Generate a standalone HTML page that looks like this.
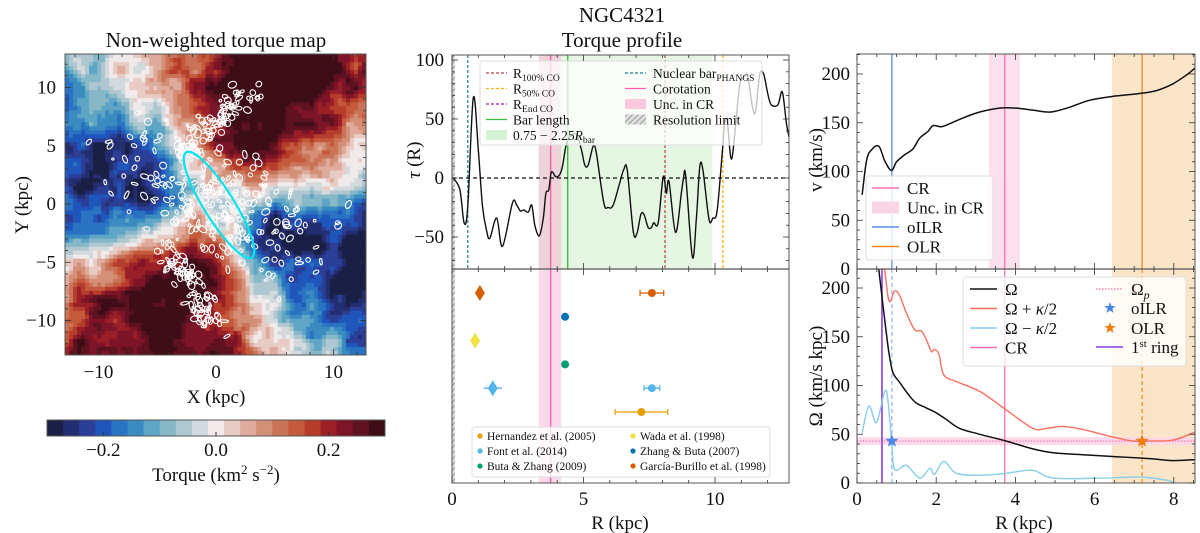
<!DOCTYPE html>
<html><head><meta charset="utf-8"><title>NGC4321 torque</title>
<style>
html,body{margin:0;padding:0;background:#fff;}
svg{display:block;font-family:"Liberation Serif","DejaVu Serif",serif;}
</style></head>
<body>
<svg id="fig" xmlns="http://www.w3.org/2000/svg" width="1200" height="533" viewBox="0 0 1200 533">
<defs>
<clipPath id="cMap"><rect x="65" y="54" width="301" height="301"/></clipPath>
<clipPath id="cTop"><rect x="452" y="55" width="337" height="214"/></clipPath>
<clipPath id="cBot"><rect x="452" y="269" width="337" height="214"/></clipPath>
<clipPath id="cRT"><rect x="857" y="54" width="338" height="215"/></clipPath>
<clipPath id="cRB"><rect x="857" y="269" width="338" height="214"/></clipPath>
<pattern id="hatch" width="4" height="4" patternUnits="userSpaceOnUse" patternTransform="rotate(45)"><rect width="4" height="4" fill="#ddd"/><line x1="0" y1="0" x2="0" y2="4" stroke="#888" stroke-width="1.5"/></pattern>
</defs>
</svg>
<script>
// ---------- DATA ----------
const torqueR = [0.05,0.3,0.46,0.6,0.81,1.0,1.16,1.32,1.44,1.7,1.92,2.3,2.46,2.6,2.73,2.9,3.03,3.15,3.32,3.47,3.57,3.68,3.78,3.95,4.1,4.2,4.33,4.48,4.73,4.92,5.05,5.18,5.37,5.49,5.77,5.94,6.13,6.38,6.53,6.66,6.89,7.03,7.18,7.3,7.46,7.58,7.67,7.84,8.03,8.15,8.25,8.5,8.72,8.81,8.89,9.14,9.29,9.42,9.54,9.77,9.92,10.08,10.28,10.37,10.47,10.62,10.78,10.94,11.13,11.25,11.42,11.54,11.7,11.85,12.01,12.14,12.39,12.56,12.71,12.81];
const torqueVal = [0,-10,-38,-24,68,24,-24,-45,-51,-34,-58,-21,-23,-28,-27,-29,-23,-40,-49,-34,-13,-10,5,1,3,10,27,35,37,24,11,11,27,21,-21,-25,-23,-4,7,7,-45,-47,-31,-31,-42,-42,-38,-38,1,-13,-3,-46,-13,1,1,-67,-35,9,7,-35,-34,-28,23,47,47,16,44,79,86,86,61,56,88,88,71,62,62,73,47,35];
const torqueYTicks = [-50,0,50,100];
const torqueXTicks = [0,5,10];
const litNames = ["García-Burillo et al. (1998)","Zhang & Buta (2007)","Wada et al. (1998)","Buta & Zhang (2009)","Font et al. (2014)","Hernandez et al. (2005)"];
const litColors = ["#d55e00","#0072b2","#f0e442","#009e73","#56b4e9","#e69f00"];
const litDiamondR = [1.06,null,0.88,null,1.55,null];
const litDiamondErr = [0,0,0,0,0.35,0];
const litCircleR = [7.6,4.3,null,4.3,7.6,7.2];
const litCircleErr = [0.45,0,0,0,0.3,1.0];
const rotR = [0.13,0.24,0.36,0.55,0.7,0.87,1.0,1.2,1.41,1.58,1.79,1.92,2.13,2.34,2.68,3.1,3.6,4.02,4.44,4.9,5.37,5.87,6.46,7.14,7.56,7.98,8.32,8.53];
const rotV = [76,111,122,126,111,101,110,117,123,134,141,147,146,149,155,161,165,165,163,161,166,173,177,180,183,190,199,206];
const omR = [0.55,0.64,0.74,0.82,0.91,1.08,1.33,1.5,1.75,2.0,2.26,2.59,3.1,3.77,4.44,4.95,5.7,6.55,7.39,7.98,8.53];
const omV = [219,188,154,130,113,103,89,82,77,72,65,56,50,43,35,31,29,27,25,23,24];
const opR = [0.7,0.78,0.84,0.95,1.08,1.25,1.46,1.62,1.75,1.88,1.96,2.07,2.19,2.51,3.1,3.77,4.44,4.78,5.2,5.7,6.38,6.97,7.39,7.98,8.53];
const opV = [219,192,186,197,192,174,157,156,147,135,137,132,111,104,94,75,56,56,58,55,48,43,43,44,52];
const omnR = [0.13,0.3,0.49,0.7,0.78,0.87,0.95,1.25,1.58,1.84,1.96,2.19,2.51,3.1,3.77,4.44,4.95,6.13,7.14,7.81,8.02];
const omnV = [51,79,62,94,85,44,14,18,5,15,9,22,10,8,10,13,5,5,6,3,0];
const omegaP = 43, omegaPLo = 39, omegaPHi = 47;
const rCR = 3.73, rCRlo = 3.33, rCRhi = 4.12, rOILR = 0.88, rOLR = 7.2, rOLRlo = 6.44, rRing = 0.63;
const tCR = 3.75, tCRlo = 3.3, tCRhi = 4.15, tBar = 4.4, tBarLo = 3.3, tBarHi = 9.9, tNuc = 0.6, tR100 = 8.1, tR50 = 10.3;
const cbarTicks = [-0.2,0.0,0.2];
const cbarColors = ['#1a1f45','#222e70','#2b3e98','#1f56bb','#2a73c2','#3a8cc0','#5ea5c6','#86b8c8','#aec7d0','#d3dadd','#f0ebea','#e8cbc4','#dfab9d','#d48f77','#ca7358','#c45a3b','#b63d2b','#9a1f26','#7d1428','#5e1220','#3f0d17'];

// ---------- HELPERS ----------
const NS = "http://www.w3.org/2000/svg";
const fig = document.getElementById('fig');
function mk(tag, attrs, name, parent){
  const el = document.createElementNS(NS, tag);
  for (const k in attrs) el.setAttribute(k, attrs[k]);
  
  
  (parent||fig).appendChild(el);
  return el;
}
function txt(x,y,s,size,name,anchor,parent,extra){
  const a = Object.assign({x:x,y:y,'font-size':size,'text-anchor':anchor||'middle',fill:'#111'}, extra||{});
  const t = mk('text', a, name, parent);
  t.innerHTML = s;
  return t;
}
function g(name, clip){ const a = {}; if (clip) a['clip-path']='url(#'+clip+')'; return mk('g', a, name); }
function poly(xs, ys, fx, fy, stroke, w, name, parent){
  const P = xs.map((x,i)=>[fx(x), fy(ys[i])]);
  let d = 'M'+P[0][0].toFixed(1)+','+P[0][1].toFixed(1);
  for(let i=0;i<P.length-1;i++){
    const p0=P[Math.max(0,i-1)],p1=P[i],p2=P[i+1],p3=P[Math.min(P.length-1,i+2)];
    const c1=[p1[0]+(p2[0]-p0[0])/6,p1[1]+(p2[1]-p0[1])/6];
    const c2=[p2[0]-(p3[0]-p1[0])/6,p2[1]-(p3[1]-p1[1])/6];
    d+=' C'+c1[0].toFixed(1)+','+c1[1].toFixed(1)+' '+c2[0].toFixed(1)+','+c2[1].toFixed(1)+' '+p2[0].toFixed(1)+','+p2[1].toFixed(1);
  }
  return mk('path',{d:d, fill:'none', stroke:stroke, 'stroke-width':w, 'stroke-linejoin':'round'}, name, parent);
}
function ticks(x0,y0,x1,y1,xs,fx,ys,fy,parent){
  xs.forEach(([v,maj])=>{const x=fx(v); if(x<x0-0.5||x>x1+0.5)return; const L=maj?6:3;
    mk('line',{x1:x,y1:y1,x2:x,y2:y1-L,stroke:'#333','stroke-width':0.8},'x-tick',parent);
    mk('line',{x1:x,y1:y0,x2:x,y2:y0+L,stroke:'#333','stroke-width':0.8},'x-tick-top',parent);});
  ys.forEach(([v,maj])=>{const y=fy(v); if(y<y0-0.5||y>y1+0.5)return; const L=maj?6:3;
    mk('line',{x1:x0,y1:y,x2:x0+L,y2:y,stroke:'#333','stroke-width':0.8},'y-tick',parent);
    mk('line',{x1:x1,y1:y,x2:x1-L,y2:y,stroke:'#333','stroke-width':0.8},'y-tick-right',parent);});
}
function range(a,b,s,majStep){const r=[];for(let v=a;v<=b+1e-9;v+=s){r.push([+v.toFixed(3), Math.abs(v/majStep-Math.round(v/majStep))<1e-6]);}return r;}

// ---------- LEFT: TORQUE MAP ----------
const lx = x => 216 + x*11.75;
const ly = y => 204 - y*11.65;
txt(216,47,'Non-weighted torque map',21,'map-title');
const mapG = g('torque-map','cMap');
function hash(i,j){const s=Math.sin(i*127.1+j*311.7)*43758.5453;return s-Math.floor(s);}
function smooth(x,y){const xi=Math.floor(x),yi=Math.floor(y),fx=x-xi,fy=y-yi;
  const a=hash(xi,yi),b=hash(xi+1,yi),c=hash(xi,yi+1),d=hash(xi+1,yi+1);
  const ux=fx*fx*(3-2*fx),uy=fy*fy*(3-2*fy);return a+(b-a)*ux+(c-a)*uy+(a-b-c+d)*ux*uy;}
function bump(X,Y,cx,cy,s,a){return a*Math.exp(-((X-cx)*(X-cx)+(Y-cy)*(Y-cy))/(2*s*s));}
const NC=75, cs=301/NC;
for(let i=0;i<NC;i++){for(let j=0;j<NC;j++){
  const px=65+i*cs+cs/2, py=54+j*cs+cs/2;
  const X=(px-216)/11.75, Y=(204-py)/11.65;
  const r=Math.hypot(X,Y), th=Math.atan2(Y,X);
  let v=0.3*Math.cos(2*(th-70*Math.PI/180))*Math.min(1,Math.max(0,(r-1.5)/4));
  v+=bump(X,Y,8,8,4,0.1)+bump(X,Y,-10,10,4,0.12)+bump(X,Y,9,1,2.5,0.1)+bump(X,Y,-10,-8,4,0.05);
  v+= (smooth(X*0.6,Y*0.6)-0.5)*0.14 + (smooth(X*1.6+9,Y*1.6+3)-0.5)*0.08;
  let k=Math.round((v+0.3)/0.6*20); k=Math.max(0,Math.min(20,k));
  mk('rect',{x:(65+i*cs).toFixed(2),y:(54+j*cs).toFixed(2),width:(cs+0.5).toFixed(2),height:(cs+0.5).toFixed(2),fill:cbarColors[k]},'map-cell',mapG);
}}
const rot=-30*Math.PI/180;
for(let n=0;n<420;n++){
  let X,Y;
  const kind=hash(n,21);
  if(kind<0.6){
    const a=(hash(n,3)+hash(n,4)+hash(n,5)-1.5)*9, b=(hash(n,6)+hash(n,7)-1)*6;
    X=a*Math.cos(rot)-b*Math.sin(rot); Y=a*Math.sin(rot)+b*Math.cos(rot);
  } else if(kind<0.8){
    const s=hash(n,8); X=-3+s*6+(hash(n,9)-0.5)*2.5; Y=4+s*6+(hash(n,10)-0.5)*2;
  } else {
    const s=hash(n,8); X=-4+s*4+(hash(n,9)-0.5)*2.5; Y=-4-s*7+(hash(n,10)-0.5)*2;
  }
  const w=1+hash(n,11)*3.5, h=1+hash(n,12)*2.5;
  const cx=lx(X).toFixed(1), cy=ly(Y).toFixed(1);
  mk('ellipse',{cx:cx,cy:cy,rx:w.toFixed(1),ry:h.toFixed(1),fill:'none',stroke:'#fff','stroke-width':1.1,transform:'rotate('+(hash(n,17)*180).toFixed(0)+' '+cx+' '+cy+')'},'co-contour',mapG);
}
mk('ellipse',{cx:219,cy:205,rx:62,ry:15,fill:'none',stroke:'#00e5f0','stroke-width':2.2,transform:'rotate(58 219 205)'},'bar-ellipse',mapG);
mk('rect',{x:65,y:54,width:301,height:301,fill:'none',stroke:'#555','stroke-width':1},'map-frame');
ticks(65,54,366,355,range(-12,12,2,10),lx,range(-12,12,1,5),ly,fig);
[-10,0,10].forEach(v=>txt(lx(v),378,v<0?'−'+(-v):v,19,'x-tick-label'));
[10,5,0,-5,-10].forEach(v=>txt(56,ly(v)+6,v<0?'−'+(-v):v,19,'y-tick-label','end'));
txt(216,403,'X (kpc)',19,'x-axis-title');
txt(28,205,'Y (kpc)',19,'y-axis-title','middle',fig,{transform:'rotate(-90 28 205)'});
const cbX=47, cbW=338;
cbarColors.forEach((c,i)=>mk('rect',{x:(cbX+i*cbW/21).toFixed(2),y:420,width:(cbW/21+0.5).toFixed(2),height:16,fill:c},'colorbar-bin'));
mk('rect',{x:cbX,y:420,width:cbW,height:16,fill:'none',stroke:'#555','stroke-width':1},'colorbar-frame');
const cbx = v => cbX + (v+0.3)/0.6*cbW;
cbarTicks.forEach(v=>{mk('line',{x1:cbx(v),y1:436,x2:cbx(v),y2:432,stroke:'#333'},'colorbar-tick');
  txt(cbx(v),456,(v<0?'−':'')+Math.abs(v).toFixed(1),19,'colorbar-tick-label');});
txt(216,481,'Torque (km<tspan font-size="13" dy="-7">2</tspan><tspan dy="7"> s</tspan><tspan font-size="13" dy="-7">−2</tspan><tspan dy="7">)</tspan>',19,'colorbar-title');

// ---------- MIDDLE ----------
const mx = R => 452 + R*26.3;
const my = t => 178 - t*1.18;
txt(622,22,'NGC4321',21,'figure-title');
txt(622,47,'Torque profile',21,'torque-title');
const tg = g('torque-panel','cTop');
mk('rect',{x:mx(tBarLo),y:55,width:mx(tBarHi)-mx(tBarLo),height:214,fill:'#e5f7e3'},'bar-range-band',tg);
mk('rect',{x:mx(tCRlo),y:55,width:mx(tCRhi)-mx(tCRlo),height:214,fill:'#f2c4d6',opacity:0.7},'cr-uncertainty-band',tg);
mk('rect',{x:452,y:55,width:3,height:214,fill:'url(#hatch)'},'resolution-limit',tg);
mk('line',{x1:mx(tNuc),y1:55,x2:mx(tNuc),y2:269,stroke:'#1f7a8c','stroke-width':1.2,'stroke-dasharray':'3,2'},'nuclear-bar-line',tg);
mk('line',{x1:mx(tR100),y1:55,x2:mx(tR100),y2:269,stroke:'#b04040','stroke-width':1.2,'stroke-dasharray':'3,2'},'r100-co-line',tg);
mk('line',{x1:mx(tR50),y1:55,x2:mx(tR50),y2:269,stroke:'#ffb020','stroke-width':1.4,'stroke-dasharray':'3,2'},'r50-co-line',tg);
mk('line',{x1:mx(tCR),y1:55,x2:mx(tCR),y2:269,stroke:'#ff5fa8','stroke-width':1.4},'corotation-line',tg);
mk('line',{x1:mx(tBar),y1:55,x2:mx(tBar),y2:269,stroke:'#3cbc3c','stroke-width':1.4},'bar-length-line',tg);
mk('line',{x1:452,y1:my(0),x2:789,y2:my(0),stroke:'#111','stroke-width':1.2,'stroke-dasharray':'4,3'},'zero-line',tg);
poly(torqueR,torqueVal,mx,my,'#111',1.4,'torque-curve',tg);
const lg = g('torque-legend');
mk('rect',{x:480,y:61,width:282,height:84,rx:3,fill:'#fff','fill-opacity':0.75,stroke:'#ddd'},'legend-box',lg);
const legL=[['#b04040','d','R<tspan font-size="9.5" dy="3">100% CO</tspan>'],['#ffb020','d','R<tspan font-size="9.5" dy="3">50% CO</tspan>'],['#a020a0','d','R<tspan font-size="9.5" dy="3">End CO</tspan>'],['#3cbc3c','s','Bar length'],['#d5f3d2','b','0.75 − 2.25<tspan font-style="italic">R</tspan><tspan font-size="9.5" dy="3">bar</tspan>']];
legL.forEach((e,i)=>{const y=73+i*15.5; if(e[1]==='b') mk('rect',{x:486,y:y-5,width:21,height:10,fill:e[0]},'legend-swatch',lg);
  else mk('line',{x1:486,y1:y,x2:507,y2:y,stroke:e[0],'stroke-width':1.3,'stroke-dasharray':e[1]==='d'?'3,2':''},'legend-swatch',lg);
  txt(513,y+5,e[2],13.5,'legend-entry','start',lg);});
const legR=[['#1f7a8c','d','Nuclear bar<tspan font-size="9.5" dy="3">PHANGS</tspan>'],['#ff5fa8','s','Corotation'],['#f9c8dd','b','Unc. in CR'],['url(#hatch)','b','Resolution limit']];
legR.forEach((e,i)=>{const y=73+i*15.5; if(e[1]==='b') mk('rect',{x:625,y:y-5,width:21,height:10,fill:e[0]},'legend-swatch',lg);
  else mk('line',{x1:625,y1:y,x2:646,y2:y,stroke:e[0],'stroke-width':1.3,'stroke-dasharray':e[1]==='d'?'3,2':''},'legend-swatch',lg);
  txt(653,y+5,e[2],13.5,'legend-entry','start',lg);});
mk('rect',{x:452,y:55,width:337,height:214,fill:'none',stroke:'#555'},'torque-frame');
ticks(452,55,789,269,range(0,12.5,1,5),mx,range(-70,100,10,50),my,fig);
torqueYTicks.forEach(v=>txt(444,my(v)+6,v<0?'−'+(-v):v,19,'y-tick-label','end'));
txt(420,160,'<tspan font-style="italic">τ</tspan> (R)',19,'y-axis-title','middle',fig,{transform:'rotate(-90 420 160)'});
const bg = g('literature-panel','cBot');
mk('rect',{x:mx(tCRlo),y:269,width:mx(tCRhi)-mx(tCRlo),height:214,fill:'#fbd9ea'},'cr-uncertainty-band',bg);
mk('rect',{x:452,y:269,width:3,height:214,fill:'url(#hatch)'},'resolution-limit',bg);
mk('line',{x1:mx(tCR),y1:269,x2:mx(tCR),y2:483,stroke:'#ff5fa8','stroke-width':1.4},'corotation-line',bg);
const rowY = i => 293 + i*23.8;
litNames.forEach((nm,i)=>{
  const y=rowY(i), c=litColors[i];
  if(litDiamondR[i]!==null){const x=mx(litDiamondR[i]);
    if(litDiamondErr[i]>0) mk('line',{x1:mx(litDiamondR[i]-litDiamondErr[i]),y1:y,x2:mx(litDiamondR[i]+litDiamondErr[i]),y2:y,stroke:c,'stroke-width':1.3},'error-bar',bg);
    mk('polygon',{points:`${x},${y-8} ${x+5},${y} ${x},${y+8} ${x-5},${y}`,fill:c},'diamond-marker',bg);}
  if(litCircleR[i]!==null){const x=mx(litCircleR[i]);
    if(litCircleErr[i]>0){const a=mx(litCircleR[i]-litCircleErr[i]),b=mx(litCircleR[i]+litCircleErr[i]);
      mk('line',{x1:a,y1:y,x2:b,y2:y,stroke:c,'stroke-width':1.3},'error-bar',bg);
      mk('line',{x1:a,y1:y-3,x2:a,y2:y+3,stroke:c,'stroke-width':1.2},'error-cap',bg);
      mk('line',{x1:b,y1:y-3,x2:b,y2:y+3,stroke:c,'stroke-width':1.2},'error-cap',bg);}
    mk('circle',{cx:x,cy:y,r:4,fill:c},'circle-marker',bg);}
});
const lg2 = g('literature-legend');
mk('rect',{x:472,y:427,width:298,height:50,rx:3,fill:'#fff','fill-opacity':0.8,stroke:'#ddd'},'legend-box',lg2);
const legOrder=[5,2,4,1,3,0];
legOrder.forEach((idx,k)=>{const col=k%2,row=Math.floor(k/2);const x=col?630:477,y=436+row*15;
  mk('circle',{cx:x+3,cy:y,r:2.6,fill:litColors[idx]},'legend-marker',lg2);
  txt(x+10,y+4,litNames[idx].replace('&','&amp;'),11.5,'legend-entry','start',lg2);});
mk('rect',{x:452,y:269,width:337,height:214,fill:'none',stroke:'#555'},'literature-frame');
mk('line',{x1:452,y1:269,x2:789,y2:269,stroke:'#555','stroke-width':1.2},'panel-divider');
ticks(452,269,789,483,range(0,12.5,1,5),mx,[],my,fig);
torqueXTicks.forEach(v=>txt(mx(v),505,v,19,'x-tick-label'));
txt(620,529,'R (kpc)',19,'x-axis-title');

// ---------- RIGHT ----------
const rx = R => 857 + R*39.6;
const rvy = v => 269 - v*0.975;
const roy = o => 483 - o*0.975;
const rt = g('rotation-panel','cRT');
mk('rect',{x:rx(rCRlo),y:54,width:rx(rCRhi)-rx(rCRlo),height:215,fill:'#fde0ee'},'cr-uncertainty-band',rt);
mk('rect',{x:rx(rOLRlo),y:54,width:1195-rx(rOLRlo),height:215,fill:'#fbe5c9'},'olr-band',rt);
mk('line',{x1:rx(rCR),y1:54,x2:rx(rCR),y2:269,stroke:'#ff6fb0','stroke-width':1.3},'cr-line',rt);
mk('line',{x1:rx(rOLR),y1:54,x2:rx(rOLR),y2:269,stroke:'#f08a1c','stroke-width':1.3},'olr-line',rt);
mk('line',{x1:rx(rOILR),y1:54,x2:rx(rOILR),y2:269,stroke:'#5b8fe0','stroke-width':1.3},'oilr-line',rt);
poly(rotR,rotV,rx,rvy,'#111',1.5,'rotation-curve',rt);
const lg3 = g('rotation-legend');
mk('rect',{x:866,y:176,width:127,height:84,rx:3,fill:'#fff','fill-opacity':0.8,stroke:'#ddd'},'legend-box',lg3);
[['#ff6fb0','s','CR'],['#fbd5e6','b','Unc. in CR'],['#5b8fe0','s','oILR'],['#f08a1c','s','OLR']].forEach((e,i)=>{const y=188+i*19.5;
  if(e[1]==='b') mk('rect',{x:872,y:y-6,width:27,height:12,fill:e[0]},'legend-swatch',lg3);
  else mk('line',{x1:872,y1:y,x2:899,y2:y,stroke:e[0],'stroke-width':1.4},'legend-swatch',lg3);
  txt(907,y+6,e[2],17,'legend-entry','start',lg3);});
mk('rect',{x:857,y:54,width:338,height:215,fill:'none',stroke:'#555'},'rotation-frame');
ticks(857,54,1195,269,range(0,8.5,0.5,2),rx,range(0,220,10,50),rvy,fig);
[0,50,100,150,200].forEach(v=>txt(850,rvy(v)+6,v,19,'y-tick-label','end'));
txt(822,160,'v (km/s)',19,'y-axis-title','middle',fig,{transform:'rotate(-90 822 160)'});
const rb = g('frequency-panel','cRB');
mk('rect',{x:rx(rOLRlo),y:269,width:1195-rx(rOLRlo),height:214,fill:'#fbe5c9'},'olr-band',rb);
mk('rect',{x:857,y:roy(omegaPHi),width:338,height:roy(omegaPLo)-roy(omegaPHi),fill:'#fbd5e6',opacity:0.85},'omega-p-band',rb);
mk('line',{x1:857,y1:roy(omegaP),x2:1195,y2:roy(omegaP),stroke:'#ff6fb0','stroke-width':1.2,'stroke-dasharray':'1.5,1.5'},'omega-p-line',rb);
mk('line',{x1:rx(rCR),y1:269,x2:rx(rCR),y2:483,stroke:'#ff6fb0','stroke-width':1.3},'cr-line',rb);
mk('line',{x1:rx(rOLR),y1:269,x2:rx(rOLR),y2:483,stroke:'#f08a1c','stroke-width':1.2,'stroke-dasharray':'4,3'},'olr-line',rb);
mk('line',{x1:rx(rOILR),y1:269,x2:rx(rOILR),y2:483,stroke:'#8fb0f0','stroke-width':1.2,'stroke-dasharray':'4,3'},'oilr-line',rb);
mk('line',{x1:rx(rRing),y1:269,x2:rx(rRing),y2:483,stroke:'#8a3ee0','stroke-width':1.6},'first-ring-line',rb);
poly(omnR,omnV,rx,roy,'#87ceeb',1.4,'omega-minus-kappa-curve',rb);
poly(opR,opV,rx,roy,'#fa7060',1.4,'omega-plus-kappa-curve',rb);
poly(omR,omV,rx,roy,'#111',1.5,'omega-curve',rb);
function star(cx,cy,r,fill,name,parent){let p=[];for(let i=0;i<10;i++){const a=-Math.PI/2+i*Math.PI/5,rr=i%2?r*0.42:r;p.push((cx+rr*Math.cos(a)).toFixed(1)+','+(cy+rr*Math.sin(a)).toFixed(1));}
  return mk('polygon',{points:p.join(' '),fill:fill},name,parent);}
star(rx(rOILR),roy(omegaP),7,'#4a86e8','oilr-star',rb);
star(rx(rOLR),roy(omegaP),7,'#f07d10','olr-star',rb);
const lg4 = g('frequency-legend');
mk('rect',{x:963,y:277,width:223,height:89,rx:3,fill:'#fff','fill-opacity':0.8,stroke:'#ddd'},'legend-box',lg4);
[['#111','Ω'],['#fa7060','Ω + <tspan font-style="italic">κ</tspan>/2'],['#87ceeb','Ω − <tspan font-style="italic">κ</tspan>/2'],['#ff6fb0','CR']].forEach((e,i)=>{const y=289+i*19.5;
  mk('line',{x1:970,y1:y,x2:997,y2:y,stroke:e[0],'stroke-width':1.4},'legend-swatch',lg4);
  txt(1005,y+6,e[1],17,'legend-entry','start',lg4);});
mk('line',{x1:1096,y1:289,x2:1123,y2:289,stroke:'#ff6fb0','stroke-width':1.2,'stroke-dasharray':'1.5,1.5'},'legend-swatch',lg4);
txt(1131,295,'Ω<tspan font-size="12" font-style="italic" dy="4">p</tspan>',17,'legend-entry','start',lg4);
star(1110,308,6,'#4a86e8','legend-star',lg4); txt(1131,314,'oILR',17,'legend-entry','start',lg4);
star(1110,328,6,'#f07d10','legend-star',lg4); txt(1131,334,'OLR',17,'legend-entry','start',lg4);
mk('line',{x1:1096,y1:347,x2:1123,y2:347,stroke:'#8a3ee0','stroke-width':1.6},'legend-swatch',lg4);
txt(1131,353,'1<tspan font-size="11" dy="-6">st</tspan><tspan dy="6"> ring</tspan>',17,'legend-entry','start',lg4);
mk('rect',{x:857,y:269,width:338,height:214,fill:'none',stroke:'#555'},'frequency-frame');
mk('line',{x1:857,y1:269,x2:1195,y2:269,stroke:'#555','stroke-width':1.2},'panel-divider');
ticks(857,269,1195,483,range(0,8.5,0.5,2),rx,range(0,210,10,50),roy,fig);
[0,50,100,150,200].forEach(v=>txt(850,roy(v)+6,v,19,'y-tick-label','end'));
[0,2,4,6,8].forEach(v=>txt(rx(v),505,v,19,'x-tick-label'));
txt(1024,529,'R (kpc)',19,'x-axis-title');
txt(822,376,'Ω (km/s kpc)',19,'y-axis-title','middle',fig,{transform:'rotate(-90 822 376)'});
</script>
</body></html>
